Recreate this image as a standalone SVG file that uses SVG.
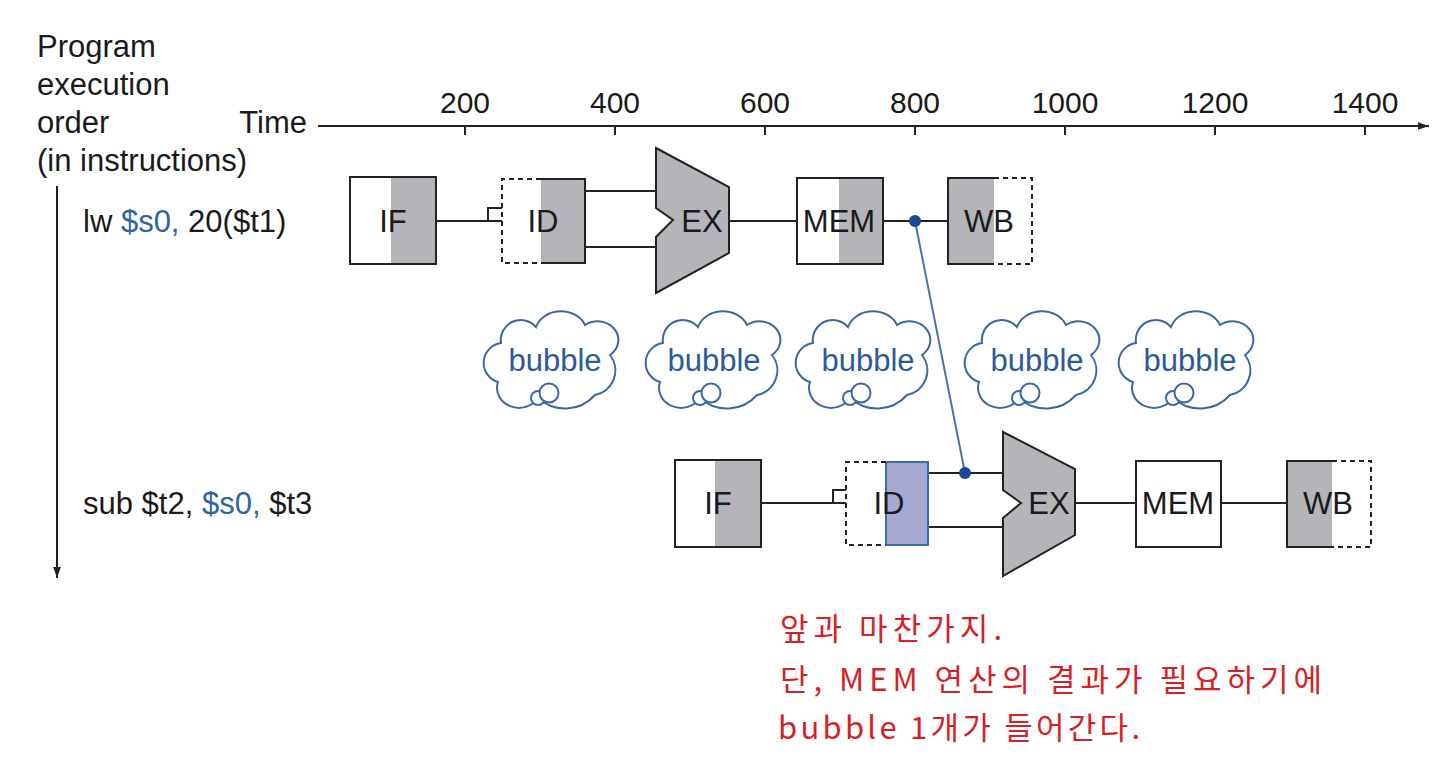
<svg xmlns="http://www.w3.org/2000/svg" width="1442" height="768" viewBox="0 0 1442 768">
<style>
text{font-family:"Liberation Sans",Arial,sans-serif;fill:#1a1a1a}
.lbl{font-size:31px}
.tick{font-size:30px;text-anchor:middle}
.st{font-size:31px;text-anchor:middle}
.blue{fill:#2f62a6}
.ln{stroke:#222;stroke-width:2;fill:none}
.dash{stroke:#222;stroke-width:2;fill:none;stroke-dasharray:5 4}
.box{fill:#fff;stroke:#222;stroke-width:2}
.gray{fill:#b4b4b9}
.cloud{fill:#fff;stroke:#3a67a5;stroke-width:2}
.bub{font-size:31px;fill:#2b5a9a;text-anchor:middle}
.fwd{stroke:#4a72b0;stroke-width:2;fill:none}
.dot{fill:#17489a}
.note{font-family:"Noto Sans CJK KR","Liberation Sans",sans-serif;font-size:31px;fill:#d61f26}
</style>
<defs>
<marker id="arr" viewBox="0 0 10 10" refX="10" refY="5" markerWidth="11" markerHeight="11" markerUnits="userSpaceOnUse" orient="auto">
<path d="M0,1.5 L10,5 L0,8.5 Z" fill="#222"/>
</marker>
<g id="cloud">
<path class="cloud" d="M-47,-17 A20 20 0 0 1 -12,-33 A26 22 0 0 1 37,-35 A20 18 0 0 1 62,-5 A25 25 0 0 1 47,35 A40 40 0 0 1 -10,38 A22 20 0 0 1 -50,22 A20 20 0 0 1 -47,-17 Z"/>
<circle class="cloud" cx="-10" cy="38" r="7"/>
<circle class="cloud" cx="1" cy="33" r="9.5"/>
</g>
</defs>

<g id="axes">
<text class="lbl" x="37" y="57">Program</text>
<text class="lbl" x="37" y="95">execution</text>
<text class="lbl" x="37" y="133">order</text>
<text class="lbl" x="37" y="171">(in instructions)</text>
<text class="lbl" x="307" y="133" text-anchor="end">Time</text>
<line class="ln" x1="318" y1="126" x2="1429" y2="126" marker-end="url(#arr)"/>
<path class="ln" d="M465,126 V135 M615,126 V135 M765,126 V135 M915,126 V135 M1065,126 V135 M1215,126 V135 M1365,126 V135"/>
<text class="tick" x="465" y="113">200</text>
<text class="tick" x="615" y="113">400</text>
<text class="tick" x="765" y="113">600</text>
<text class="tick" x="915" y="113">800</text>
<text class="tick" x="1065" y="113">1000</text>
<text class="tick" x="1215" y="113">1200</text>
<text class="tick" x="1365" y="113">1400</text>
<line class="ln" x1="57" y1="186" x2="57" y2="578" marker-end="url(#arr)"/>
<text class="lbl" x="83" y="232">lw <tspan class="blue">$s0,</tspan> 20($t1)</text>
<text class="lbl" x="83" y="514">sub $t2, <tspan class="blue">$s0,</tspan> $t3</text>
</g>

<g id="connectors">
<path class="ln" d="M436,221 H502 M488,221 V208 H502"/>
<path class="ln" d="M585,191 H656 M585,247 H656"/>
<path class="ln" d="M729,221 H797"/>
<path class="ln" d="M883,221 H948"/>
<path class="ln" d="M761,503 H846 M833,503 V490 H846"/>
<path class="ln" d="M928,473 H1003 M928,527 H1003"/>
<path class="ln" d="M1075,503 H1136"/>
<path class="ln" d="M1221,503 H1287"/>
<path class="fwd" d="M915,221 L965,473"/>
<circle class="dot" cx="915" cy="221" r="6"/>
<circle class="dot" cx="965" cy="473" r="6"/>
</g>

<g id="lw-IF">
<rect class="box" x="350" y="177" width="86" height="87"/>
<rect class="gray" x="391" y="178" width="44" height="85"/>
<text class="st" x="393" y="232">IF</text>
</g>
<g id="lw-ID">
<rect class="gray" x="541" y="179" width="44" height="84"/>
<path class="ln" d="M541,179 H585 V263 H541"/>
<path class="dash" d="M541,179 H502 V263 H541"/>
<text class="st" x="543" y="232">ID</text>
</g>
<g id="lw-EX">
<path d="M656,148 L729,187 L729,253 L656,293 L656,237 L673,220 L656,208 Z" fill="#b4b4b9" stroke="#222" stroke-width="2"/>
<text class="st" x="702" y="232">EX</text>
</g>
<g id="lw-MEM">
<rect class="box" x="797" y="178" width="86" height="86"/>
<rect class="gray" x="839" y="179" width="43" height="84"/>
<text class="st" x="839" y="232">MEM</text>
</g>
<g id="lw-WB">
<rect class="gray" x="948" y="178" width="46" height="86"/>
<path class="ln" d="M994,178 H948 V264 H994"/>
<path class="dash" d="M994,178 H1032 V264 H994"/>
<text class="st" x="989" y="232">WB</text>
</g>

<g id="bubble1"><use href="#cloud" x="548" y="360"/><text class="bub" x="555" y="371">bubble</text></g>
<g id="bubble2"><use href="#cloud" x="710" y="360"/><text class="bub" x="714" y="371">bubble</text></g>
<g id="bubble3"><use href="#cloud" x="860" y="360"/><text class="bub" x="868" y="371">bubble</text></g>
<g id="bubble4"><use href="#cloud" x="1029" y="360"/><text class="bub" x="1037" y="371">bubble</text></g>
<g id="bubble5"><use href="#cloud" x="1183" y="360"/><text class="bub" x="1190" y="371">bubble</text></g>

<g id="sub-IF">
<rect class="box" x="675" y="460" width="86" height="87"/>
<rect class="gray" x="715" y="461" width="45" height="85"/>
<text class="st" x="718" y="514">IF</text>
</g>
<g id="sub-ID">
<rect x="886" y="462" width="42" height="83" fill="#a5a9d0" stroke="#3b6bb0" stroke-width="2"/>
<path class="dash" d="M886,462 H846 V545 H886"/>
<text class="st" x="889" y="514">ID</text>
</g>
<g id="sub-EX">
<path d="M1003,432 L1075,469 L1075,535 L1003,576 L1003,518 L1021,503 L1003,490 Z" fill="#b4b4b9" stroke="#222" stroke-width="2"/>
<text class="st" x="1049" y="514">EX</text>
</g>
<g id="sub-MEM">
<rect class="box" x="1136" y="461" width="85" height="86"/>
<text class="st" x="1178" y="514">MEM</text>
</g>
<g id="sub-WB">
<rect class="gray" x="1287" y="461" width="45" height="86"/>
<path class="ln" d="M1332,461 H1287 V547 H1332"/>
<path class="dash" d="M1332,461 H1371 V547 H1332"/>
<text class="st" x="1328" y="514">WB</text>
</g>

<g id="note">
<text class="note" x="780" y="640" textLength="222">앞과 마찬가지.</text>
<text class="note" x="780" y="691" textLength="542">단, MEM 연산의 결과가 필요하기에</text>
<text class="note" x="778" y="739" textLength="362">bubble 1개가 들어간다.</text>
</g>
</svg>
